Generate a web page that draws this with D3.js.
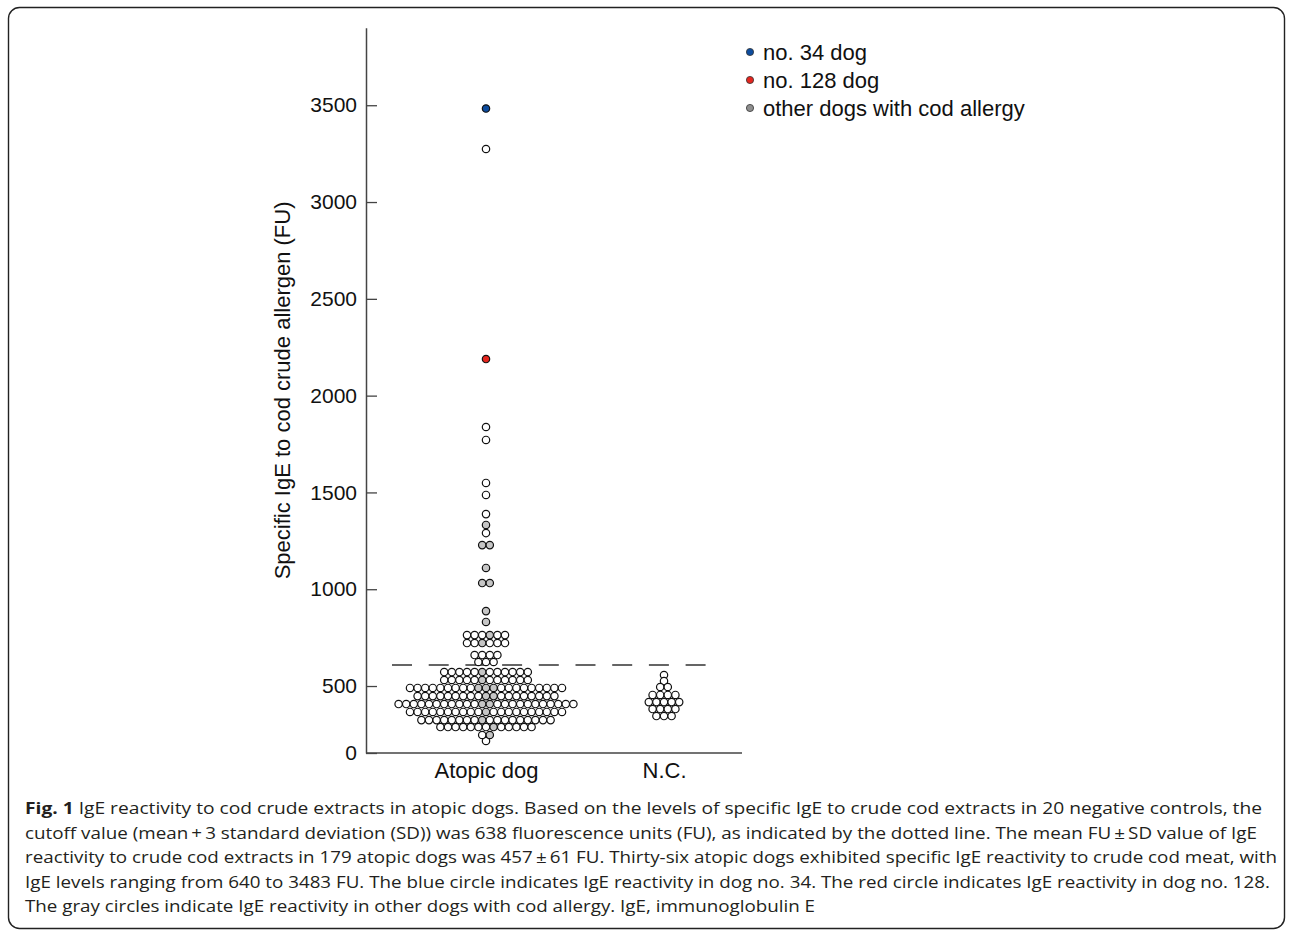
<!DOCTYPE html>
<html>
<head>
<meta charset="utf-8">
<script src="https://cdn.jsdelivr.net/npm/d3@7"></script>
<style>
  body { margin: 0; background: #fff; }
  svg { display: block; }
  .axis text { font-family: "Liberation Sans", Arial, sans-serif; fill: #111; }
</style>
</head>
<body>
<div id="chart"></div>
<script>
// groups on the x axis
const groups = ["Atopic dog", "N.C."];

// atopic dogs: FU level of each row of the swarm, and how many dogs sit on it
const atopicLevels = [216, 247, 288, 324, 366, 407, 448, 490, 531, 572, 624, 660, 722, 763,
                      831, 887, 1032, 1110, 1228, 1290, 1332, 1388, 1487, 1549, 1771, 1838, 2189, 3274, 3483];
const atopicCounts = [1, 2, 13, 18, 21, 24, 19, 21, 12, 12, 3, 4, 6, 6,
                      1, 1, 2, 1, 2, 1, 1, 1, 1, 1, 1, 1, 1, 1, 1];

// other dogs with cod allergy (gray): level and position in its row
const grayDogs = [[247, [1]], [288, [7]], [324, [8]], [366, [10]], [407, [11, 12]], [448, [9, 10]],
                  [490, [9, 10, 11]], [531, [5]], [572, [5]], [722, [2]], [763, [3]], [831, [0]],
                  [887, [0]], [1032, [0, 1]], [1110, [0]], [1228, [0, 1]], [1332, [0]]];
const dogNo34 = 3483;
const dogNo128 = 2189;

// negative controls
const ncLevels = [557, 526, 495, 454, 417, 381, 345];
const ncCounts = [1, 1, 2, 4, 5, 4, 3];

const cutoff = 608;
const yTicks = [0, 500, 1000, 1500, 2000, 2500, 3000, 3500];

const legendItems = [
  {label: "no. 34 dog", color: "#0d4c9e"},
  {label: "no. 128 dog", color: "#e5261f"},
  {label: "other dogs with cod allergy", color: "#8e8e8e"}
];

const captionLines = [
  " IgE reactivity to cod crude extracts in atopic dogs. Based on the levels of specific IgE to crude cod extracts in 20 negative controls, the",
  "cutoff value (mean\u2009+\u20093 standard deviation (SD)) was 638 fluorescence units (FU), as indicated by the dotted line. The mean FU\u2009\u00b1\u2009SD value of IgE",
  "reactivity to crude cod extracts in 179 atopic dogs was 457\u2009\u00b1\u200961 FU. Thirty-six atopic dogs exhibited specific IgE reactivity to crude cod meat, with",
  "IgE levels ranging from 640 to 3483 FU. The blue circle indicates IgE reactivity in dog no. 34. The red circle indicates IgE reactivity in dog no. 128.",
  "The gray circles indicate IgE reactivity in other dogs with cod allergy. IgE, immunoglobulin E"
];
const captionWidths = [1237, 1232, 1252, 1245, 790];

var W = 1292, H = 934;
var dotR = 3.7, dotStep = 7.6;

var svg = d3.select("#chart").append("svg")
    .attr("width", W)
    .attr("height", H);

// figure frame
svg.append("rect")
    .attr("x", 8.5).attr("y", 7.5)
    .attr("width", 1276).attr("height", 921)
    .attr("rx", 11)
    .attr("fill", "none")
    .attr("stroke", "#222")
    .attr("stroke-width", 1.4);

// y is broken below 200 FU, like the original axis
var y = d3.scaleLinear()
    .domain([0, 200, 3900])
    .range([753, 744.1, 27.8]);

var x = d3.scalePoint()
    .domain(groups)
    .range([486, 664]);

var xLeft = 366, xRight = 742;

// y axis
var yAxis = svg.append("g")
    .attr("class", "axis")
    .attr("transform", "translate(" + xLeft + ",0)")
    .call(d3.axisLeft(y).tickValues(yTicks).tickFormat(d3.format("d"))
        .tickSize(-11).tickSizeOuter(0).tickPadding(9));
yAxis.select(".domain").attr("stroke", "#444").attr("stroke-width", 1.5);
yAxis.selectAll(".tick line").attr("stroke", "#444").attr("stroke-width", 1.3);
yAxis.selectAll("text").style("font-size", "21px");

// x axis
var xAxis = svg.append("g")
    .attr("class", "axis")
    .attr("transform", "translate(0," + y(0) + ")")
    .call(d3.axisBottom(x).tickSize(0).tickPadding(9));
xAxis.select(".domain").remove();
xAxis.selectAll("text").style("font-size", "22px");
xAxis.append("line")
    .attr("x1", xLeft).attr("x2", xRight)
    .attr("stroke", "#444").attr("stroke-width", 1.5);

// y title
svg.append("text")
    .attr("transform", "translate(290," + (y(0) + y(3900)) / 2 + ") rotate(-90)")
    .attr("text-anchor", "middle")
    .style("font-family", "'Liberation Sans', Arial, sans-serif")
    .style("font-size", "22px")
    .attr("fill", "#111")
    .text("Specific IgE to cod crude allergen (FU)");

// cutoff line
svg.append("line")
    .attr("x1", 392).attr("x2", 706)
    .attr("y1", y(cutoff)).attr("y2", y(cutoff))
    .attr("stroke", "#333")
    .attr("stroke-width", 1.5)
    .attr("stroke-dasharray", "20,16.7");

// build the dots
function rowsToDots(group, levels, counts) {
    var dots = [];
    levels.forEach(function (v, r) {
        var n = counts[r];
        for (var i = 0; i < n; i++) {
            dots.push({group: group, value: v, col: i, dx: (i - (n - 1) / 2) * dotStep});
        }
    });
    return dots;
}

var grayMap = new Map(grayDogs);
var dots = rowsToDots("Atopic dog", atopicLevels, atopicCounts)
    .concat(rowsToDots("N.C.", ncLevels, ncCounts));

function dotFill(d) {
    if (d.group !== "Atopic dog") return "#fff";
    if (d.value === dogNo34) return "#0d4c9e";
    if (d.value === dogNo128) return "#e5261f";
    var g = grayMap.get(d.value);
    if (g && g.indexOf(d.col) >= 0) return "#c6c6c6";
    return "#fff";
}

svg.append("g").selectAll("circle")
    .data(dots)
    .enter()
    .append("circle")
    .attr("cx", function (d) { return x(d.group) + d.dx; })
    .attr("cy", function (d) { return y(d.value); })
    .attr("r", dotR)
    .attr("fill", dotFill)
    .attr("stroke", "#111")
    .attr("stroke-width", 1.2);

// legend
var legend = svg.append("g")
    .selectAll("g")
    .data(legendItems)
    .enter()
    .append("g")
    .attr("transform", function (d, i) { return "translate(750," + (52 + i * 28) + ")"; });
legend.append("circle")
    .attr("r", 3.6)
    .attr("fill", function (d) { return d.color; })
    .attr("stroke", "#333")
    .attr("stroke-width", 0.8);
legend.append("text")
    .attr("x", 13)
    .attr("dy", "0.36em")
    .style("font-family", "'Liberation Sans', Arial, sans-serif")
    .style("font-size", "22px")
    .attr("fill", "#111")
    .text(function (d) { return d.label; });

// caption
var cap = svg.append("g")
    .style("font-family", "'Open Sans', sans-serif")
    .style("font-size", "16.5px")
    .attr("fill", "#231f20");

captionLines.forEach(function (line, i) {
    var t = cap.append("text")
        .attr("x", 25)
        .attr("y", 814 + i * 24.5);
    if (captionWidths[i]) {
        t.attr("textLength", captionWidths[i]).attr("lengthAdjust", "spacingAndGlyphs");
    }
    if (i === 0) {
        t.append("tspan").style("font-weight", "bold").text("Fig. 1");
    }
    t.append("tspan").text(line);
});
</script>
</body>
</html>
